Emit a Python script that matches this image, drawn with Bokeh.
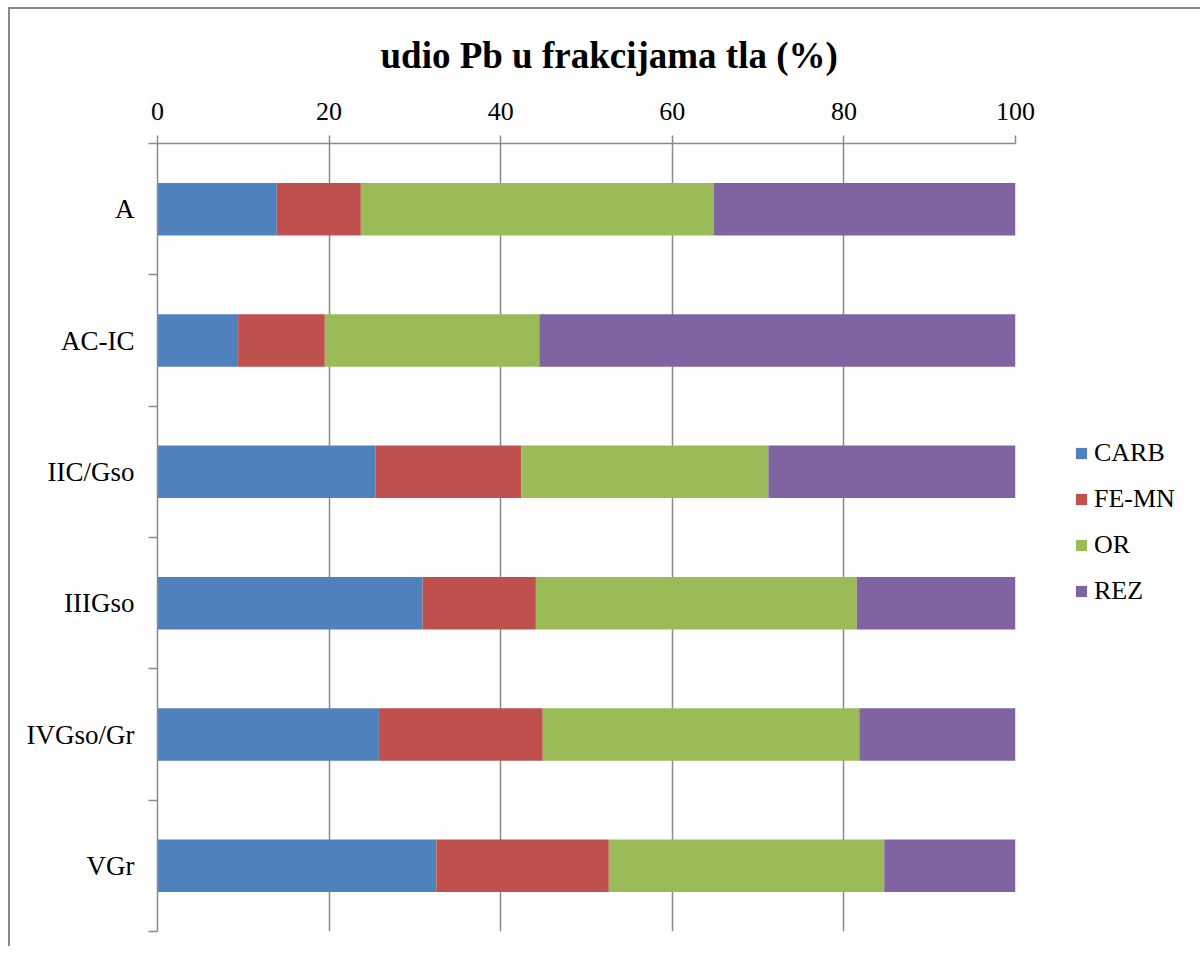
from bokeh.plotting import figure
from bokeh.models import ColumnDataSource, Range1d, FixedTicker, Legend
from bokeh.embed import file_html
from bokeh.resources import INLINE

categories = ["A", "AC-IC", "IIC/Gso", "IIIGso", "IVGso/Gr", "VGr"]
series = ["CARB", "FE-MN", "OR", "REZ"]
carb = [13.9, 9.4, 25.4, 30.9, 25.8, 32.5]
femn = [9.8, 10.1, 17.0, 13.2, 19.1, 20.1]
orr = [41.1, 25.0, 28.8, 37.4, 36.9, 32.1]
rez = [35.2, 55.5, 28.8, 18.5, 18.2, 15.3]
x_ticks = [0, 20, 40, 60, 80, 100]
colors = ["#4F81BD", "#C0504D", "#9BBB59", "#8064A2"]

FONT = "Liberation Serif"
GRAY = "#8a8a8a"

ypos = [i + 0.5 for i in range(len(categories))]
source = ColumnDataSource(dict(y=ypos, CARB=carb, **{"FE-MN": femn}, OR=orr, REZ=rez))

p = figure(frame_width=858, frame_height=788,
           x_range=Range1d(0, 100), y_range=Range1d(len(categories), 0),
           x_axis_location="above", output_backend="svg", toolbar_location=None,
           min_border_left=147, min_border_right=180, min_border_top=129,
           min_border_bottom=15,
           styles={"border-left": "2px solid #8a8a8a", "border-top": "2px solid #8a8a8a",
                   "margin-top": "7px", "margin-left": "8px"})

renderers = p.hbar_stack(series, y="y", height=0.4, color=colors, line_color=None,
                         source=source)

p.outline_line_color = None
p.background_fill_color = "white"
p.border_fill_color = "white"

p.title.text = "udio Pb u frakcijama tla (%)"
p.title.text_font = FONT
p.title.text_font_size = "37px"
p.title.text_font_style = "bold"
p.title.text_color = "black"
p.title.align = "left"
p.title.offset = 223
p.title.standoff = 47

xa = p.xaxis[0]
xa.ticker = FixedTicker(ticks=x_ticks)
xa.major_tick_out = 8
xa.major_tick_in = 0
xa.minor_tick_line_color = None
xa.axis_line_color = GRAY
xa.axis_line_width = 1.5
xa.major_tick_line_color = GRAY
xa.major_tick_line_width = 1.5
xa.major_label_text_font = FONT
xa.major_label_text_font_size = "26px"
xa.major_label_text_color = "black"
xa.major_label_standoff = 16

ya = p.yaxis[0]
ya.ticker = FixedTicker(ticks=ypos, minor_ticks=list(range(len(categories) + 1)))
ya.major_tick_line_color = None
ya.major_tick_out = 0
ya.major_tick_in = 0
ya.minor_tick_out = 9
ya.minor_tick_in = 0
ya.minor_tick_line_color = GRAY
ya.minor_tick_line_width = 1.5
ya.axis_line_color = GRAY
ya.axis_line_width = 1.5
ya.major_label_overrides = {y: c for y, c in zip(ypos, categories)}
ya.major_label_text_font = FONT
ya.major_label_text_font_size = "27px"
ya.major_label_text_color = "black"
ya.major_label_standoff = 14

p.xgrid.grid_line_color = GRAY
p.xgrid.grid_line_width = 1.5
p.ygrid.grid_line_color = None

legend = Legend(items=[(s, [r]) for s, r in zip(series, renderers)],
                location=(59, 325), orientation="vertical",
                label_text_font=FONT, label_text_font_size="26px",
                label_text_color="black",
                glyph_width=14, glyph_height=14, label_standoff=6,
                spacing=16, padding=0, margin=0, border_line_color=None,
                background_fill_alpha=0)
p.add_layout(legend, "right")

open("out.html", "w").write(file_html(p, INLINE))
